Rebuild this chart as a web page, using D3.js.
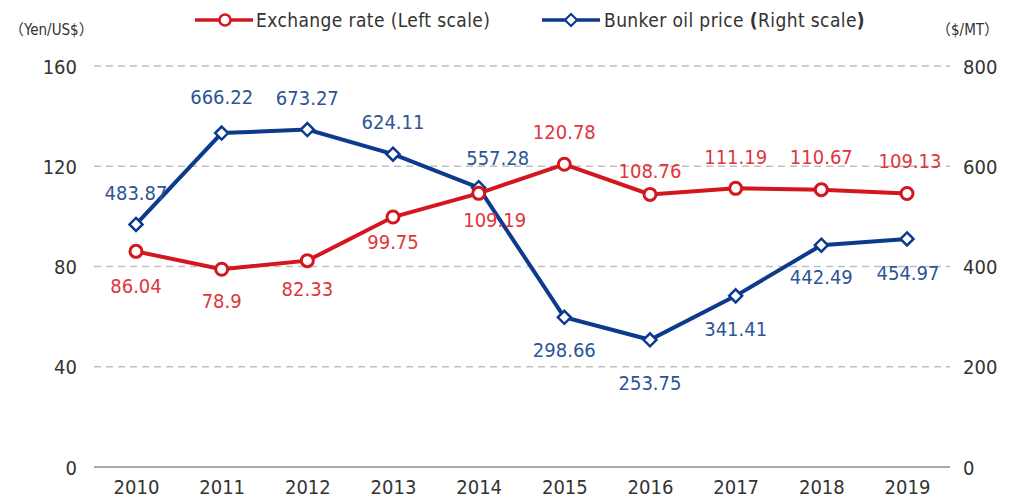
<!DOCTYPE html>
<html><head><meta charset="utf-8">
<script src="https://cdn.jsdelivr.net/npm/d3@7"></script>
<style>body{margin:0;background:#fff}svg{display:block}text{font-family:"DejaVu Sans Condensed","Noto Sans CJK JP",sans-serif}</style>
</head><body>
<svg id="c" width="1027" height="498"></svg>
<script>
const years = ["2010","2011","2012","2013","2014","2015","2016","2017","2018","2019"];
const exchangeRate = [86.04,78.9,82.33,99.75,109.19,120.78,108.76,111.19,110.67,109.13];
const bunkerPrice = [483.87,666.22,673.27,624.11,557.28,298.66,253.75,341.41,442.49,454.97];
const leftTicks = [0,40,80,120,160];
const rightTicks = [0,200,400,600,800];
// label placement (layout only)
const exLabelDy = [34,32,28,25,26,-32,-24,-32,-33,-33];
const exLabelDx = [0,0,0,0,16,0,0,0,0,3];
const bkLabelDy = [-32,-36,-32,-32,-30,33,43,33,32,34];
const bkLabelDx = [0,0,0,0,19,0,0,0,0,1];

const red="#d4161f", blue="#0c3a8c", redLbl="#e0353b", blueLbl="#2c5596", txt="#333";
const svg=d3.select("#c");
const x=d3.scalePoint().domain(years).range([136,907]);
const yL=d3.scaleLinear().domain([0,160]).range([467,66]);
const yR=d3.scaleLinear().domain([0,800]).range([467,66]);

svg.append("g").selectAll("line").data(leftTicks.filter(d=>d>0)).join("line")
 .attr("x1",94).attr("x2",950).attr("y1",d=>yL(d)).attr("y2",d=>yL(d))
 .attr("stroke","#bfbfbf").attr("stroke-width",1.5).attr("stroke-dasharray","7,5");
svg.append("line").attr("x1",94).attr("x2",950).attr("y1",yL(0)).attr("y2",yL(0)).attr("stroke","#8c8c8c").attr("stroke-width",1.5);

const fs=20;
const gl=svg.append("g").attr("transform","translate(77,0)").call(d3.axisLeft(yL).tickValues(leftTicks).tickSize(0).tickPadding(0));
const gr=svg.append("g").attr("transform","translate(963,0)").call(d3.axisRight(yR).tickValues(rightTicks).tickSize(0).tickPadding(0));
const gx=svg.append("g").attr("transform","translate(0,480)").call(d3.axisBottom(x).tickSize(0).tickPadding(0));
[gl,gr,gx].forEach(g=>{g.select(".domain").remove();g.selectAll("text").attr("font-size",fs).attr("fill",txt).attr("font-family",'"DejaVu Sans Condensed",sans-serif');});
gx.selectAll("text").attr("dy","0.72em");
gl.selectAll("text").attr("dy","0.36em");
gr.selectAll("text").attr("dy","0.36em");

svg.append("text").attr("x",9).attr("y",35).attr("font-size",15).attr("fill",txt).attr("font-family",'"Noto Sans CJK JP",sans-serif').text("（Yen/US$）");
svg.append("text").attr("x",936).attr("y",35).attr("font-size",15).attr("fill",txt).attr("font-family",'"Noto Sans CJK JP",sans-serif').text("（$/MT）");

const lineL=d3.line().x((d,i)=>x(years[i])).y(d=>yL(d));
const lineR=d3.line().x((d,i)=>x(years[i])).y(d=>yR(d));
svg.append("path").datum(exchangeRate).attr("d",lineL).attr("fill","none").attr("stroke",red).attr("stroke-width",4);
svg.append("path").datum(bunkerPrice).attr("d",lineR).attr("fill","none").attr("stroke",blue).attr("stroke-width",4);

const diamond=(cx,cy,r)=>`M${cx},${cy-r}L${cx+r},${cy}L${cx},${cy+r}L${cx-r},${cy}Z`;
svg.append("g").selectAll("path").data(bunkerPrice).join("path")
 .attr("d",(d,i)=>diamond(x(years[i]),yR(d),6.5)).attr("fill","#fff").attr("stroke",blue).attr("stroke-width",2.5);
svg.append("g").selectAll("circle").data(exchangeRate).join("circle")
 .attr("cx",(d,i)=>x(years[i])).attr("cy",d=>yL(d)).attr("r",6).attr("fill","#fff").attr("stroke",red).attr("stroke-width",3);

svg.append("g").selectAll("text").data(exchangeRate).join("text")
 .attr("x",(d,i)=>x(years[i])+exLabelDx[i]).attr("y",(d,i)=>yL(d)+exLabelDy[i])
 .attr("dy","0.36em").attr("text-anchor","middle").attr("font-size",fs).attr("fill",redLbl).text(d=>d);
svg.append("g").selectAll("text").data(bunkerPrice).join("text")
 .attr("x",(d,i)=>x(years[i])+bkLabelDx[i]).attr("y",(d,i)=>yR(d)+bkLabelDy[i])
 .attr("dy","0.36em").attr("text-anchor","middle").attr("font-size",fs).attr("fill",blueLbl).text(d=>d);

const lg=svg.append("g");
lg.append("line").attr("x1",195).attr("x2",253).attr("y1",20).attr("y2",20).attr("stroke",red).attr("stroke-width",3.5);
lg.append("circle").attr("cx",225).attr("cy",20).attr("r",5.5).attr("fill","#fff").attr("stroke",red).attr("stroke-width",2.5);
lg.append("text").attr("x",256).attr("y",20).attr("dy","0.36em").attr("font-size",19).attr("letter-spacing",0.4).attr("fill",txt).text("Exchange rate (Left scale)");
lg.append("line").attr("x1",542).attr("x2",600).attr("y1",20).attr("y2",20).attr("stroke",blue).attr("stroke-width",3.5);
lg.append("path").attr("d",diamond(571,20,6)).attr("fill","#fff").attr("stroke",blue).attr("stroke-width",2.2);
const bt=lg.append("text").attr("x",604).attr("y",20).attr("dy","0.36em").attr("font-size",19).attr("letter-spacing",0.4).attr("fill",txt);
bt.append("tspan").text("Bunker oil price ");
bt.append("tspan").attr("font-weight","bold").text("(");
bt.append("tspan").text("Right scale");
bt.append("tspan").attr("font-weight","bold").text(")");
</script>
</body></html>
